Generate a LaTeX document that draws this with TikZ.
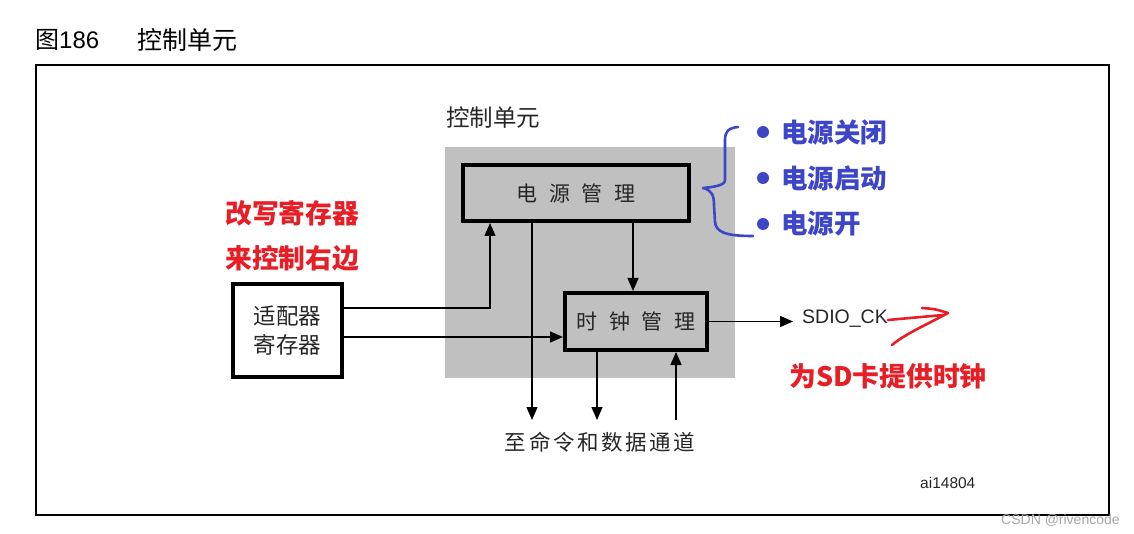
\documentclass[tikz,border=0pt]{standalone}
\usepackage{fontspec}
\setmainfont{Liberation Sans}
\newfontfamily\cjk{Noto Sans CJK SC}
\usetikzlibrary{arrows.meta}
\definecolor{ctrlgray}{RGB}{192,192,192}
\definecolor{noteRed}{RGB}{232,30,38}
\definecolor{noteBlue}{RGB}{62,70,200}
\tikzset{
  box/.style={draw=black, line width=4pt, inner sep=0pt, align=center},
  conn/.style={draw=black, line width=1.4pt},
  arr/.style={conn, -{Triangle[length=13pt,width=11pt]}},
  cjktext/.style={font=\cjk\fontsize{21}{27}\selectfont, inner sep=0pt, text=black!85},
  rednote/.style={font=\cjk\bfseries\fontsize{26.8}{30}\selectfont, text=noteRed, inner sep=0pt, anchor=west},
  bluenote/.style={font=\cjk\bfseries\fontsize{26.5}{30}\selectfont, text=noteBlue, inner sep=0pt, anchor=west},
  bullet/.style={circle, fill=noteBlue, inner sep=0pt, minimum size=12pt},
  handline/.style={line width=2.6pt, line cap=round, line join=round}
}
\begin{document}
\begin{tikzpicture}[x=1pt,y=-1pt]
\useasboundingbox (0,0) rectangle (1134,534);
% title
\node[anchor=west, inner sep=0pt, font=\fontsize{24}{28}\selectfont] (fig) at (35,40) {{\cjk 图}186};
\node[anchor=west, inner sep=0pt, font=\cjk\fontsize{25}{28}\selectfont] (figt) at (137,40) {控制单元};
% outer frame
\node[draw=black, line width=2pt, minimum width=1073pt, minimum height=450pt, inner sep=0pt] (frame) at (572.5,290) {};
% control unit region
\node[fill=ctrlgray, minimum width=290pt, minimum height=231pt, inner sep=0pt] (ctrl) at (590,262.5) {};
\node[cjktext, anchor=west, font=\cjk\fontsize{23.5}{27}\selectfont] (ctrllbl) at (446,118) {控制单元};
% boxes
\node[box, fill=ctrlgray, minimum width=226pt, minimum height=56pt, cjktext] (power) at (576,193) {电\hspace{0.55em}源\hspace{0.55em}管\hspace{0.55em}理};
\node[box, fill=ctrlgray, minimum width=142pt, minimum height=57pt, cjktext] (clock) at (636,321.5) {时\hspace{0.55em}钟\hspace{0.55em}管\hspace{0.55em}理};
\node[box, fill=white, minimum width=109pt, minimum height=93pt, cjktext, align=center, font=\cjk\fontsize{22.5}{29}\selectfont] (adapter) at (287.5,330.5) {适配器\\寄存器};
% texts
\node[cjktext, font=\cjk\fontsize{21.5}{27}\selectfont] (dest) at (600,442) {至\hspace{0.12em}命\hspace{0.12em}令\hspace{0.12em}和\hspace{0.12em}数\hspace{0.12em}据\hspace{0.12em}通\hspace{0.12em}道};
\node[anchor=west, inner sep=0pt, font=\fontsize{19.5}{24}\selectfont, text=black!85] (sdio) at (802,319) {SDIO\_CK};
\node[anchor=west, inner sep=0pt, font=\fontsize{15.5}{18}\selectfont, text=black!85] (ai) at (920,483) {ai14804};
\node[anchor=west, inner sep=0pt, font=\fontsize{14}{17}\selectfont, text=black!35] (wm) at (1001,520) {CSDN @rivencode};
% coordinates for connectors
\coordinate (pa) at (490,308);
\coordinate (ca) at (0,337);
\coordinate (d1) at (532,420);
\coordinate (d2) at (597,420);
\coordinate (u1) at (676,420);
\coordinate (pc) at (633,0);
\coordinate (sdioTip) at (793,0);
% connectors
\draw[arr] (adapter.east |- pa) -- (pa) -- (pa |- power.south);
\draw[arr] (adapter.east |- ca) -- (clock.west |- ca);
\draw[arr] (d1 |- power.south) -- (d1);
\draw[arr] (pc |- power.south) -- (pc |- clock.north);
\draw[arr] (d2 |- clock.south) -- (d2);
\draw[arr] (u1) -- (u1 |- clock.south);
\draw[arr] (clock.east) -- (sdioTip |- clock.east);
% red notes
\node[rednote] (n1) at (225,213) {改写寄存器};
\node[rednote] (n2) at (225,258) {来控制右边};
\node[rednote] (n3) at (789,376) {为SD卡提供时钟};
% red hand arrow
\draw[handline, draw=noteRed] (888,320) -- (943,315);
\draw[handline, draw=noteRed] (922,308) .. controls (935,309) .. (948,313) .. controls (926,325) and (905,334) .. (892,345);
% blue brace
\draw[handline, draw=noteBlue] (738,127) .. controls (728,128) and (725,132) .. (725,140) -- (725,180) .. controls (725,186) and (712,187) .. (703,188) .. controls (712,190) and (714,196) .. (714,205) -- (715,222) .. controls (716,232) and (725,236) .. (753,236);
% blue bullets
\node[bullet] (b1) at (763,132) {};
\node[bullet] (b2) at (763,178) {};
\node[bullet] (b3) at (763,224) {};
\node[bluenote] (t1) at (781,132) {电源关闭};
\node[bluenote] (t2) at (781,178) {电源启动};
\node[bluenote] (t3) at (781,224) {电源开};
\end{tikzpicture}
\end{document}
